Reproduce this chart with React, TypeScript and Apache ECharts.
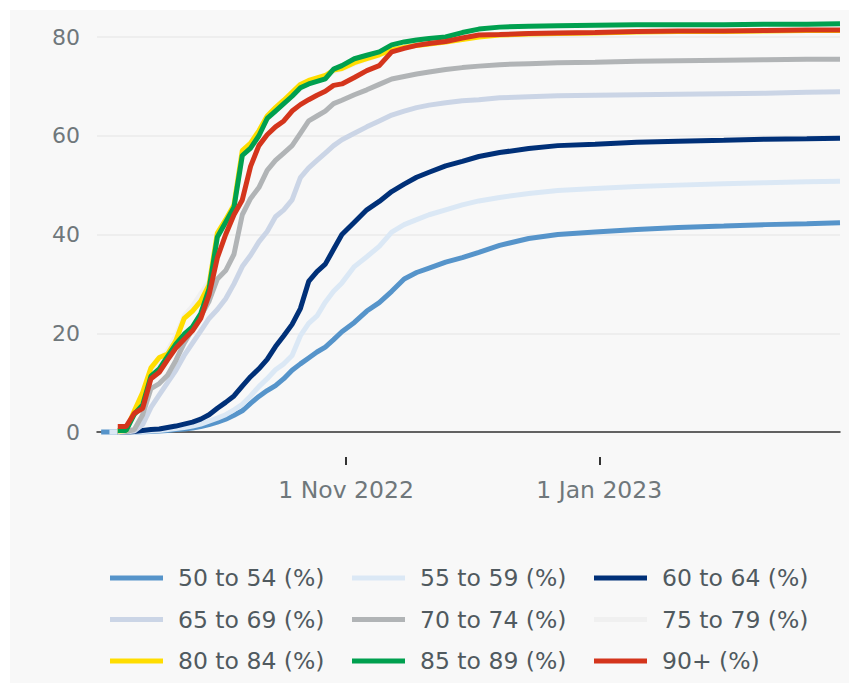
import React, { useEffect, useRef } from "react";
import * as echarts from "echarts";

const dates = [
  "2022-09-03", "2022-09-05", "2022-09-07", "2022-09-09", "2022-09-11", "2022-09-13", "2022-09-15",
  "2022-09-17", "2022-09-19", "2022-09-21", "2022-09-23", "2022-09-25", "2022-09-27", "2022-09-29",
  "2022-10-01", "2022-10-03", "2022-10-05", "2022-10-07", "2022-10-09", "2022-10-11", "2022-10-13",
  "2022-10-15", "2022-10-17", "2022-10-19", "2022-10-21", "2022-10-23", "2022-10-25", "2022-10-27",
  "2022-10-29", "2022-10-31", "2022-11-03", "2022-11-06", "2022-11-09", "2022-11-12", "2022-11-15",
  "2022-11-18", "2022-11-21", "2022-11-25", "2022-11-29", "2022-12-03", "2022-12-08", "2022-12-15",
  "2022-12-22", "2022-12-31", "2023-01-10", "2023-01-20", "2023-01-31", "2023-02-10", "2023-02-20",
  "2023-02-28",
];

const seriesNames = [
  "50 to 54 (%)", "55 to 59 (%)", "60 to 64 (%)",
  "65 to 69 (%)", "70 to 74 (%)", "75 to 79 (%)",
  "80 to 84 (%)", "85 to 89 (%)", "90+ (%)",
];

const age50to54 = [0, 0, 0, 0, 0, 0.05, 0.1, 0.2, 0.3, 0.5, 0.6, 0.8, 1.1, 1.5,
  2, 2.6, 3.4, 4.3, 5.8, 7.2, 8.4, 9.4, 10.8, 12.5, 13.8, 15, 16.2, 17.2, 18.7, 20.3,
  22.2, 24.5, 26.2, 28.5, 31, 32.3, 33.2, 34.4, 35.3,
  36.4, 37.8, 39.2, 40, 40.5, 41, 41.4, 41.7, 42, 42.2, 42.4];
const age55to59 = [null, 0, 0, 0, 0, 0.1, 0.2, 0.3, 0.5, 0.7, 0.9, 1.2, 1.6, 2.2,
  2.8, 3.5, 4.5, 5.6, 7.3, 9.2, 10.8, 12.6, 13.8, 15.5, 19.5, 22, 23.5, 26.3, 28.5, 30.2,
  33.5, 35.5, 37.6, 40.5, 42, 43, 44, 45, 46,
  46.8, 47.5, 48.3, 48.9, 49.3, 49.7, 50, 50.3, 50.5, 50.7, 50.8];
const age60to64 = [null, null, 0, 0, 0.1, 0.3, 0.5, 0.6, 0.9, 1.2, 1.6, 2, 2.6, 3.5,
  4.8, 6, 7.3, 9.3, 11.2, 12.8, 14.7, 17.3, 19.5, 21.8, 25, 30.5, 32.5, 34, 37, 40,
  42.5, 45, 46.7, 48.7, 50.2, 51.6, 52.6, 53.9, 54.8,
  55.8, 56.6, 57.4, 58, 58.3, 58.7, 58.9, 59.1, 59.3, 59.4, 59.5];
const age65to69 = [null, null, 0, 0, 0.2, 1.5, 5, 7.5, 10, 12.5, 15.5, 18, 20.5, 23,
  24.8, 27, 30, 33.5, 35.8, 38.5, 40.6, 43.6, 45, 47, 51.5, 53.5, 55, 56.5, 58, 59.2,
  60.5, 61.8, 63, 64.2, 65, 65.7, 66.2, 66.7, 67.1,
  67.3, 67.7, 67.9, 68.1, 68.2, 68.3, 68.4, 68.5, 68.6, 68.8, 68.9];
const age70to74 = [null, null, 0, 0.1, 0.5, 3.5, 8.8, 9.8, 11.5, 14.5, 18, 20.8, 23.5, 26.5,
  31, 32.7, 36, 44, 47.3, 49.5, 53, 55, 56.5, 58, 60.5, 63, 64, 65, 66.5, 67.2,
  68.3, 69.3, 70.4, 71.5, 72, 72.5, 72.9, 73.4, 73.8,
  74.1, 74.4, 74.6, 74.8, 74.9, 75.1, 75.2, 75.3, 75.4, 75.5, 75.5];
const age75to79 = [null, null, 0, 0.3, 4, 7, 12.5, 14.5, 16.5, 19.5, 23.5, 25.5, 28, 30.5,
  39.5, 42.5, 45.5, 56, 57.8, 60.3, 63.3, 65, 66.5, 68, 69.6, 70.5, 71.2, 71.8, 73, 73.5,
  74.6, 75.5, 76.3, 77.3, 77.9, 78.4, 78.8, 79.3, 79.8,
  80.2, 80.5, 80.7, 80.8, 80.9, 81, 81.1, 81.2, 81.2, 81.3, 81.3];
const age80to84 = [null, null, 0.2, 0.3, 4.3, 8, 13, 15.1, 15.8, 18.5, 23, 24.5, 26.5, 29.8,
  40.3, 43, 46, 57, 58.5, 61, 64, 65.7, 67.2, 68.8, 70.4, 71.2, 71.7, 72.2, 73.3, 73.6,
  74.8, 75.6, 76.4, 77.4, 77.9, 78.3, 78.6, 79, 79.5,
  80, 80.4, 80.6, 80.7, 80.8, 81, 81.1, 81.1, 81.2, 81.3, 81.3];
const age85to89 = [null, null, 0.3, 0.3, 3.6, 5.5, 11.3, 12.8, 15.3, 17.8, 19.8, 21.3, 24, 29,
  39.5, 42.5, 45.5, 56, 57.5, 60, 63.5, 65, 66.5, 68, 69.7, 70.5, 71, 71.5, 73.5, 74.2,
  75.6, 76.3, 77, 78.4, 79, 79.4, 79.7, 80, 80.9,
  81.6, 82, 82.2, 82.3, 82.4, 82.5, 82.5, 82.5, 82.6, 82.6, 82.7];
const age90plus = [null, null, 1.1, 1.1, 3.8, 4.8, 10.8, 12.1, 14.6, 17, 18.8, 20.5, 23, 27.8,
  35.3, 40, 44, 47, 53.8, 58, 60.2, 61.8, 63, 65, 66.3, 67.3, 68.2, 69, 70.2, 70.5,
  71.8, 73.2, 74.2, 77, 77.7, 78.3, 78.7, 79.1, 79.8,
  80.4, 80.5, 80.7, 80.8, 80.9, 81.1, 81.2, 81.2, 81.3, 81.4, 81.4];

const seriesValues = [age50to54, age55to59, age60to64, age65to69, age70to74, age75to79, age80to84, age85to89, age90plus];
const seriesColors = ["#5694ca", "#dbe8f5", "#003078", "#cbd5e6", "#b1b4b6", "#f0f0f0", "#ffdd00", "#00a04f", "#d4351c"];

const xStart = "2022-09-02";
const xEnd = "2023-02-28";
const xTickDates = ["2022-11-01", "2023-01-01"];
const monthNames = ["Jan", "Feb", "Mar", "Apr", "May", "Jun", "Jul", "Aug", "Sep", "Oct", "Nov", "Dec"];

const ts = (s: string) => {
  const [y, m, d] = s.split("-").map(Number);
  return Date.UTC(y, m - 1, d);
};

const FONT = "DejaVu Sans";

export default function App() {
  const ref = useRef<HTMLDivElement>(null);
  useEffect(() => {
    if (!ref.current) return;
    const chart = echarts.init(ref.current, undefined, { renderer: "svg" });
    const tickVals = xTickDates.map(ts);
    const legendCols = [0, 1, 2].map((c) => ({
      data: [seriesNames[c], seriesNames[c + 3], seriesNames[c + 6]],
      left: 110 + c * 242,
      top: 566,
      padding: 0,
      orient: "vertical",
      itemWidth: 53,
      itemHeight: 5,
      itemGap: 17.5,
      icon: "rect",
      selectedMode: false,
      textStyle: { fontSize: 23.5, color: "#505a5f", fontFamily: FONT, lineHeight: 24, padding: [0, 0, 0, 10] },
    }));
    const fmt = (v: number) => {
      const d = new Date(v);
      return `${d.getUTCDate()} ${monthNames[d.getUTCMonth()]} ${d.getUTCFullYear()}`;
    };
    chart.setOption({
      animation: false,
      textStyle: { fontFamily: FONT },
      grid: { left: 97, right: 9, top: 37, bottom: 251, containLabel: false },
      legend: legendCols,
      xAxis: [
        {
          type: "value",
          min: ts(xStart),
          max: ts(xEnd),
          axisLine: { show: true, onZero: false, lineStyle: { color: "#333", width: 1.5 } },
          axisTick: { show: false },
          axisLabel: { show: false },
          splitLine: { show: false },
        },
        {
          type: "value",
          position: "bottom",
          offset: 25,
          min: ts(xStart),
          max: ts(xEnd),
          axisLine: { show: false, onZero: false },
          axisTick: { show: true, customValues: tickVals, length: 8, lineStyle: { color: "#333", width: 2 } },
          axisLabel: {
            show: true,
            customValues: tickVals,
            margin: 21,
            fontSize: 23.5,
            color: "#6f777b",
            fontFamily: FONT,
            formatter: fmt,
          },
          splitLine: { show: false },
        },
      ],
      yAxis: {
        type: "value",
        min: 0,
        max: 80,
        interval: 20,
        axisLine: { show: false },
        axisTick: { show: false },
        axisLabel: { fontSize: 22, color: "#6f777b", margin: 17, fontFamily: FONT },
        splitLine: { lineStyle: { color: "#ebebeb", width: 1.5 } },
      },
      series: seriesNames.map((name, i) => ({
        name,
        type: "line",
        xAxisIndex: 0,
        clip: false,
        showSymbol: false,
        symbol: "none",
        color: seriesColors[i],
        lineStyle: { width: 5, color: seriesColors[i] },
        data: dates.map((d, j) => [ts(d), seriesValues[i][j]]),
      })),
    });
    return () => chart.dispose();
  }, []);
  return (
    <div style={{ position: "fixed", left: 0, top: 0, width: 849, height: 683, background: "#fff" }}>
      <div
        ref={ref}
        style={{
          width: 849,
          height: 683,
          background: "linear-gradient(#f8f8f8,#f8f8f8) 10px 10px / 839px 673px no-repeat, #fff",
        }}
      />
    </div>
  );
}
